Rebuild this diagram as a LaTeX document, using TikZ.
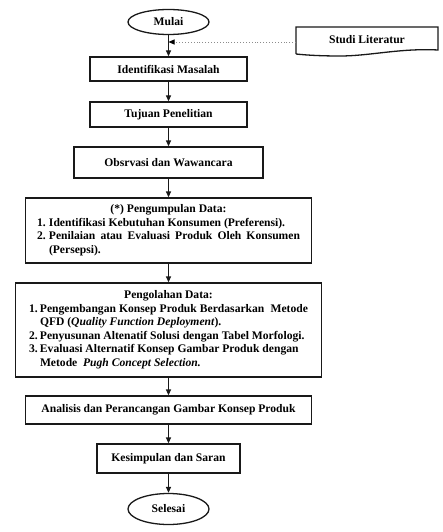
\documentclass[tikz,border=0pt]{standalone}
\usepackage{fontspec}
\setmainfont{Liberation Serif}
\usetikzlibrary{arrows.meta,shapes.geometric}
\begin{document}
\begin{tikzpicture}[x=1pt,y=-1pt,
  every node/.style={font=\fontsize{11.6}{13.5}\selectfont\bfseries, inner sep=0pt},
  box/.style={draw=black!90, line width=1.3pt, rectangle},
  term/.style={draw=black!90, line width=1.3pt, ellipse},
  flow/.style={draw=black!90, line width=1.3pt, -{Triangle[length=6pt,width=5pt]}},
  feed/.style={draw=black!45, line width=0.9pt, dotted, -{Triangle[length=6pt,width=5pt,color=black]}}
]
\useasboundingbox (0,0) rectangle (443,532);
\fill[white] (0,0) rectangle (443,532);

\node[term, minimum width=81pt, minimum height=25pt] (mulai) at (168.5,22) {Mulai};
\node[box, minimum width=157pt, minimum height=24pt] (ident) at (168.5,69) {Identifikasi Masalah};
\node[box, minimum width=157pt, minimum height=25pt] (tujuan) at (168.5,114.5) {Tujuan Penelitian};
\node[box, minimum width=189pt, minimum height=31pt] (obs) at (168.5,162.5) {Obsrvasi dan Wawancara};
\node[box, minimum width=286pt, minimum height=65pt] (kumpul) at (168.5,230.5) {%
  \begin{tabular}{@{}l@{}l@{}}
  \multicolumn{2}{c}{(*) Pengumpulan Data:}\\
  \makebox[12pt][l]{1.} & Identifikasi Kebutuhan Konsumen (Preferensi).\\
  \makebox[12pt][l]{2.} & \makebox[251pt][s]{Penilaian atau Evaluasi Produk Oleh Konsumen}\\
  & (Persepsi).
  \end{tabular}};
\node[box, minimum width=306pt, minimum height=94pt] (olah) at (168.5,330) {%
  \begin{tabular}{@{}l@{}l@{}}
  \multicolumn{2}{c}{Pengolahan Data:}\\
  \makebox[11pt][l]{1.} & \makebox[268pt][s]{Pengembangan Konsep Produk Berdasarkan\ \ Metode}\\
  & QFD (\textit{Quality Function Deployment}).\\
  \makebox[11pt][l]{2.} & Penyusunan Altenatif Solusi dengan Tabel Morfologi.\\
  \makebox[11pt][l]{3.} & Evaluasi Alternatif Konsep Gambar Produk dengan\\
  & Metode\ \ \textit{Pugh Concept Selection.}
  \end{tabular}};
\node[box, minimum width=286pt, minimum height=28pt] (anal) at (168.5,410) {Analisis dan Perancangan Gambar Konsep Produk};
\node[box, minimum width=143pt, minimum height=29pt] (simp) at (168.5,458.5) {Kesimpulan dan Saran};
\node[term, minimum width=81pt, minimum height=31pt] (selesai) at (168.5,509) {Selesai};

% Studi Literatur document shape
\node (studi) at (367,39.5) {Studi Literatur};
\draw[draw=black!90, line width=1.3pt]
  (296,54) -- (296,27) -- (438,27) -- (438,50)
  .. controls (400,48) and (370,56) .. (340,56)
  .. controls (320,56) and (305,55) .. (296,54);

\coordinate (sw) at (296,42);
\coordinate (j) at (168.5,42);
\draw[feed] (sw) -- (j);

\draw[flow] (mulai) -- (ident);
\draw[flow] (ident) -- (tujuan);
\draw[flow] (tujuan) -- (obs);
\draw[flow] (obs) -- (kumpul);
\draw[flow] (kumpul) -- (olah);
\draw[flow] (olah) -- (anal);
\draw[flow] (anal) -- (simp);
\draw[flow] (simp) -- (selesai);
\end{tikzpicture}
\end{document}
